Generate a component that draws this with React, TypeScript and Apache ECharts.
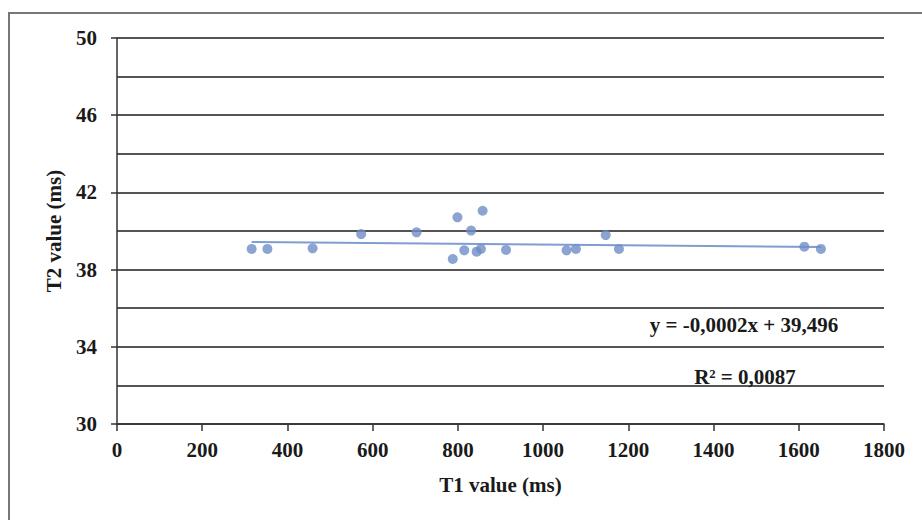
import React, { useEffect, useRef } from "react";
import * as echarts from "echarts";

const t1Values = [316, 353, 459, 573, 703, 788, 799, 815, 831, 844, 854, 858, 913, 1055, 1077, 1147, 1178, 1613, 1652];
const t2Values = [39.07, 39.07, 39.1, 39.84, 39.93, 38.55, 40.71, 39.0, 40.02, 38.93, 39.07, 41.05, 39.02, 39.0, 39.07, 39.79, 39.07, 39.19, 39.07];
const trendX = [316, 1652];
const trendY = [39.433, 39.166];
const equationText = "y = -0,0002x + 39,496";
const r2Text = "R² = 0,0087";
const xAxisTitle = "T1 value (ms)";
const yAxisTitle = "T2 value (ms)";

const FONT = "Liberation Serif";

export default function App() {
  const ref = useRef<HTMLDivElement>(null);
  useEffect(() => {
    if (!ref.current) return;
    const chart = echarts.init(ref.current, undefined, { renderer: "svg" });
    const points = t1Values.map((x, i) => [x, t2Values[i]]);
    const trend = trendX.map((x, i) => [x, trendY[i]]);
    chart.setOption({
      animation: false,
      backgroundColor: "#ffffff",
      grid: { left: 117, right: 38, top: 38, bottom: 96 },
      xAxis: {
        type: "value",
        min: 0,
        max: 1800,
        interval: 200,
        name: xAxisTitle,
        nameLocation: "middle",
        nameGap: 50,
        nameTextStyle: { fontFamily: FONT, fontWeight: "bold", fontSize: 21, color: "#1a1a1a" },
        axisLine: { show: true, lineStyle: { color: "#333", width: 1.5 } },
        axisTick: { show: true, length: 7, lineStyle: { color: "#333", width: 1.5 } },
        axisLabel: {
          margin: 15,
          fontFamily: FONT,
          fontWeight: "bold",
          fontSize: 21,
          color: "#1a1a1a",
          formatter: (v: number) => String(v),
        },
        splitLine: { show: false },
      },
      yAxis: [
        {
          type: "value",
          min: 30,
          max: 50,
          interval: 4,
          name: yAxisTitle,
          nameLocation: "middle",
          nameGap: 53,
          nameTextStyle: { fontFamily: FONT, fontWeight: "bold", fontSize: 21, color: "#1a1a1a" },
          axisLine: { show: true, lineStyle: { color: "#333", width: 1.5 } },
          axisTick: { show: true, length: 6, lineStyle: { color: "#333", width: 1.5 } },
          axisLabel: {
            margin: 20,
            fontFamily: FONT,
            fontWeight: "bold",
            fontSize: 21,
            color: "#1a1a1a",
            formatter: (v: number) => String(v),
          },
          splitLine: { show: false },
        },
        {
          type: "value",
          min: 30,
          max: 50,
          interval: 2,
          position: "left",
          axisLine: { show: false },
          axisTick: { show: false },
          axisLabel: { show: false },
          splitLine: { show: true, lineStyle: { color: "#555", width: 2 } },
        },
      ],
      series: [
        {
          type: "line",
          yAxisIndex: 0,
          data: trend,
          symbol: "none",
          lineStyle: { color: "#7f9dd0", width: 2 },
          z: 3,
        },
        {
          type: "scatter",
          yAxisIndex: 0,
          data: points,
          symbol: "circle",
          symbolSize: 10,
          itemStyle: { color: "#6f8dc6" },
          z: 4,
        },
      ],
      graphic: [
        {
          type: "rect",
          shape: { x: 9, y: 13, width: 960, height: 560 },
          style: { fill: "none", stroke: "#777", lineWidth: 2 },
          silent: true,
          z: 0,
        },
        {
          type: "text",
          x: 744,
          y: 325,
          style: {
            text: equationText,
            fontFamily: FONT,
            fontWeight: "bold",
            fontSize: 21,
            fill: "#1a1a1a",
            align: "center",
            verticalAlign: "middle",
          },
          z: 10,
        },
        {
          type: "text",
          x: 745,
          y: 377,
          style: {
            text: r2Text,
            fontFamily: FONT,
            fontWeight: "bold",
            fontSize: 21,
            fill: "#1a1a1a",
            align: "center",
            verticalAlign: "middle",
          },
          z: 10,
        },
      ],
    });
    return () => chart.dispose();
  }, []);
  return (
    <div
      ref={ref}
      style={{ position: "absolute", left: 0, top: 0, width: 922, height: 520 }}
    />
  );
}
